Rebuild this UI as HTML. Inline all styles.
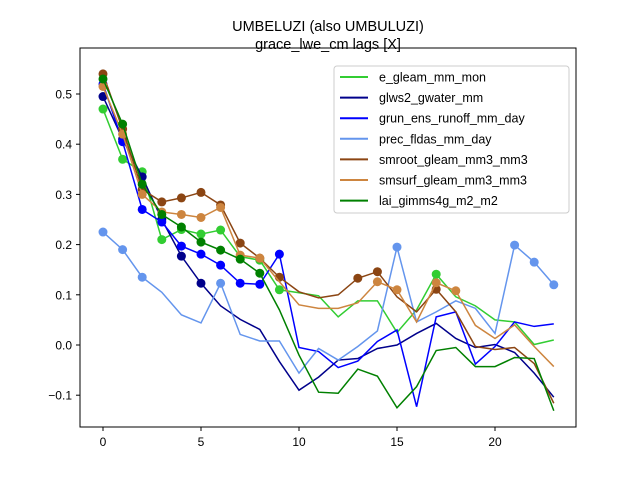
<!DOCTYPE html>
<html><head><meta charset="utf-8"><style>
body{margin:0;background:#fff;}
svg{display:block;font-family:"Liberation Sans","DejaVu Sans",sans-serif;}
</style></head><body>
<svg id="chart" width="640" height="480" viewBox="0 0 640 480">
<rect width="640" height="480" fill="#fff"/>
<text x="328" y="31" text-anchor="middle" font-size="14.5">UMBELUZI (also UMBULUZI)</text>
<text x="328" y="49" text-anchor="middle" font-size="14.5">grace_lwe_cm lags [X]</text>
<g id="plot"></g>
<rect x="80" y="48" width="496" height="379" fill="none" stroke="#000" stroke-width="1"/>
<g id="ticks"></g>
<g id="legend"></g>
</svg>
<script>
const lags = [0,1,2,3,4,5,6,7,8,9,10,11,12,13,14,15,16,17,18,19,20,21,22,23];
const seriesNames = ["e_gleam_mm_mon","glws2_gwater_mm","grun_ens_runoff_mm_day","prec_fldas_mm_day","smroot_gleam_mm3_mm3","smsurf_gleam_mm3_mm3","lai_gimms4g_m2_m2"];
const eGleam = [0.47,0.37,0.345,0.21,0.23,0.221,0.229,0.176,0.169,0.11,0.104,0.098,0.056,0.088,0.088,0.025,0.07,0.141,0.096,0.078,0.05,0.046,0.001,0.01];
const glws2 = [0.495,0.41,0.335,0.25,0.177,0.123,0.078,0.051,0.031,-0.033,-0.09,-0.064,-0.03,-0.027,-0.007,0,0.023,0.043,0.013,-0.005,0.001,-0.015,-0.056,-0.104];
const grun = [0.52,0.405,0.27,0.245,0.197,0.181,0.159,0.123,0.121,0.181,-0.005,-0.013,-0.045,-0.032,0.007,0.03,-0.123,0.056,0.066,-0.038,-0.003,0.046,0.037,0.042];
const prec = [0.225,0.19,0.135,0.105,0.06,0.044,0.123,0.021,0.008,0.008,-0.056,-0.007,-0.03,-0.003,0.028,0.195,0.046,0.066,0.088,0.073,0.023,0.199,0.165,0.12];
const smroot = [0.54,0.43,0.31,0.285,0.293,0.304,0.279,0.203,0.173,0.135,0.106,0.094,0.1,0.133,0.146,0.096,0.066,0.111,0.066,-0.003,-0.009,-0.005,-0.037,-0.116];
const smsurf = [0.515,0.42,0.3,0.265,0.26,0.254,0.274,0.179,0.173,0.126,0.08,0.073,0.073,0.084,0.126,0.11,0.046,0.124,0.108,0.039,0.013,0.04,-0.003,-0.043];
const lai = [0.53,0.44,0.32,0.26,0.235,0.205,0.189,0.171,0.143,0.07,-0.02,-0.094,-0.096,-0.048,-0.062,-0.125,-0.083,-0.011,-0.005,-0.043,-0.043,-0.025,-0.027,-0.131];
const eGleamMarks = [0,1,2,3,4,5,6,7,8,9,17];
const glws2Marks = [0,1,2,3,4,5];
const grunMarks = [0,1,2,3,4,5,6,7,8,9];
const precMarks = [0,1,2,6,15,21,22,23];
const smrootMarks = [0,1,2,3,4,5,6,7,8,9,13,14,17];
const smsurfMarks = [0,1,2,3,4,5,6,7,8,14,15,17,18];
const laiMarks = [0,1,2,3,4,5,6,7,8];
const xTicks = [0,5,10,15,20];
const yTicks = [-0.1,0.0,0.1,0.2,0.3,0.4,0.5];

const NS = "http://www.w3.org/2000/svg";
const xS = v => 103 + v * 19.6;
const yS = v => 345 - v * 502;
const colors = ["#32cd32","#00008b","#0000ff","#6495ed","#8b4513","#cd853f","#008000"];
const all = [eGleam, glws2, grun, prec, smroot, smsurf, lai];
const marks = [eGleamMarks, glws2Marks, grunMarks, precMarks, smrootMarks, smsurfMarks, laiMarks];
const plot = document.getElementById('plot');
all.forEach((s, i) => {
  const g = document.createElementNS(NS, 'g');
  
  
  const p = document.createElementNS(NS, 'polyline');
  p.setAttribute('points', s.map((v, k) => xS(lags[k]) + ',' + yS(v)).join(' '));
  p.setAttribute('fill', 'none');
  p.setAttribute('stroke', colors[i]);
  p.setAttribute('stroke-width', '1.5');
  
  
  g.appendChild(p);
  marks[i].forEach(k => {
    const c = document.createElementNS(NS, 'circle');
    c.setAttribute('cx', xS(lags[k]));
    c.setAttribute('cy', yS(s[k]));
    c.setAttribute('r', '4.5');
    c.setAttribute('fill', colors[i]);
    
    
    g.appendChild(c);
  });
  plot.appendChild(g);
});
const ticks = document.getElementById('ticks');
xTicks.forEach(t => {
  const l = document.createElementNS(NS, 'line');
  l.setAttribute('x1', xS(t)); l.setAttribute('x2', xS(t));
  l.setAttribute('y1', 427); l.setAttribute('y2', 431);
  l.setAttribute('stroke', '#000');
  
  
  ticks.appendChild(l);
  const tx = document.createElementNS(NS, 'text');
  tx.setAttribute('x', xS(t)); tx.setAttribute('y', 446);
  tx.setAttribute('text-anchor', 'middle'); tx.setAttribute('font-size', '12');
  tx.textContent = t;
  
  
  ticks.appendChild(tx);
});
yTicks.forEach(t => {
  const l = document.createElementNS(NS, 'line');
  l.setAttribute('x1', 76); l.setAttribute('x2', 80);
  l.setAttribute('y1', yS(t)); l.setAttribute('y2', yS(t));
  l.setAttribute('stroke', '#000');
  
  
  ticks.appendChild(l);
  const tx = document.createElementNS(NS, 'text');
  tx.setAttribute('x', 72); tx.setAttribute('y', yS(t) + 4.5);
  tx.setAttribute('text-anchor', 'end'); tx.setAttribute('font-size', '12');
  tx.textContent = t < 0 ? '\u2212' + Math.abs(t).toFixed(1) : t.toFixed(1);
  
  
  ticks.appendChild(tx);
});
const leg = document.getElementById('legend');
const box = document.createElementNS(NS, 'rect');
box.setAttribute('x', 334); box.setAttribute('y', 66); box.setAttribute('width', 235); box.setAttribute('height', 147);
box.setAttribute('rx', 3); box.setAttribute('fill', '#fff'); box.setAttribute('fill-opacity', '0.8');
box.setAttribute('stroke', '#ccc');


leg.appendChild(box);
seriesNames.forEach((n, i) => {
  const y = 77 + i * 20.6;
  const l = document.createElementNS(NS, 'line');
  l.setAttribute('x1', 340); l.setAttribute('x2', 368); l.setAttribute('y1', y); l.setAttribute('y2', y);
  l.setAttribute('stroke', colors[i]); l.setAttribute('stroke-width', '2');
  
  
  leg.appendChild(l);
  const t = document.createElementNS(NS, 'text');
  t.setAttribute('x', 379); t.setAttribute('y', y + 4.5); t.setAttribute('font-size', '12.5');
  t.textContent = n;
  
  
  leg.appendChild(t);
});
</script>
</body></html>
